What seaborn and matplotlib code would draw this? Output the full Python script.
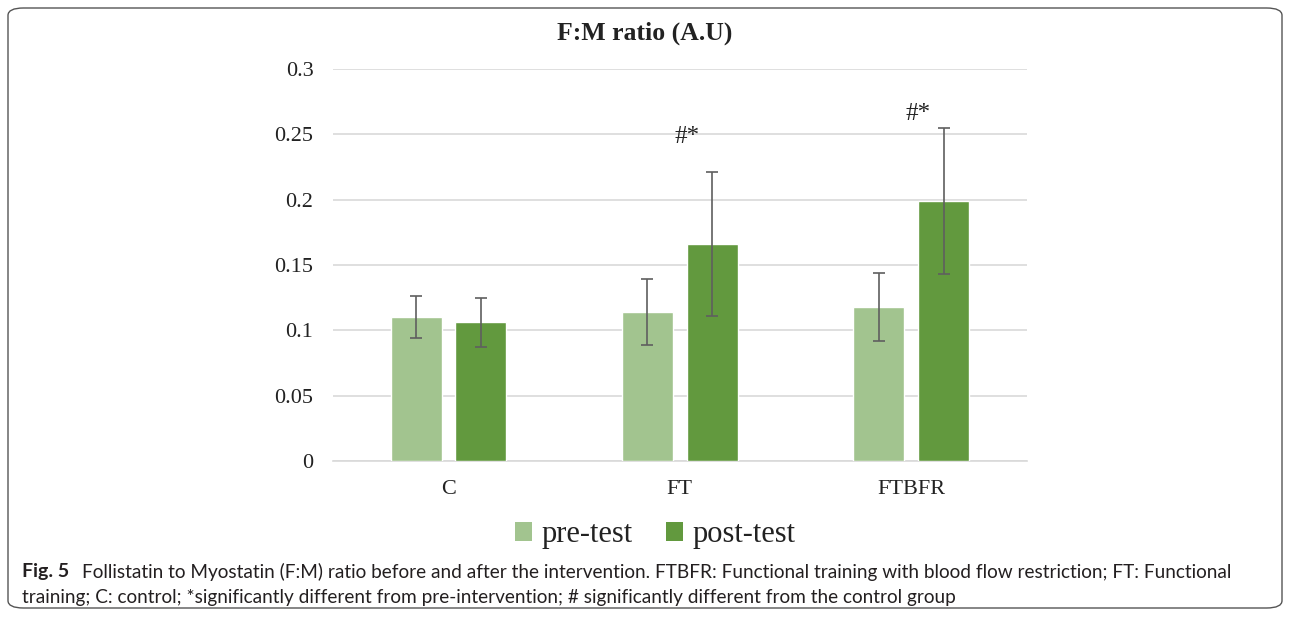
import numpy as np
import pandas as pd
import matplotlib
matplotlib.use("Agg")
import matplotlib.pyplot as plt
import seaborn as sns
from matplotlib.patches import FancyBboxPatch, Patch

# data
groups = ["C", "FT", "FTBFR"]
phases = ["pre-test", "post-test"]
pre_mean = [0.110, 0.114, 0.118]
post_mean = [0.106, 0.166, 0.199]
pre_err = [0.016, 0.025, 0.026]
post_err = [0.019, 0.055, 0.056]
sig_labels = ["", "#*", "#*"]
sig_y = [None, 0.248, 0.266]
yticks = [0, 0.05, 0.1, 0.15, 0.2, 0.25, 0.3]
ytick_labels = ["0", "0.05", "0.1", "0.15", "0.2", "0.25", "0.3"]

colors = {"pre-test": "#A2C48F", "post-test": "#62993E"}

df = pd.DataFrame({
    "group": groups * 2,
    "phase": ["pre-test"] * 3 + ["post-test"] * 3,
    "value": pre_mean + post_mean,
    "err": pre_err + post_err,
})

sns.set_style("white")
plt.rcParams["font.family"] = ["Liberation Serif", "DejaVu Serif"]

fig = plt.figure(figsize=(12.9, 6.17), dpi=100)
ax = fig.add_axes([0.258, 0.253, 0.538, 0.635])

sns.barplot(data=df, x="group", y="value", hue="phase", order=groups,
            hue_order=phases, palette=colors, saturation=1, width=0.56,
            gap=0.21, errorbar=None, legend=False, ax=ax, zorder=3)

# error bars at the bar centres
for container, phase in zip(ax.containers, phases):
    sub = df[df["phase"] == phase].set_index("group").loc[groups]
    xs = [b.get_x() + b.get_width() / 2 for b in container]
    ax.errorbar(xs, sub["value"], yerr=sub["err"], fmt="none",
                ecolor="#5f5f5f", elinewidth=1.2, capsize=4, capthick=1.2,
                zorder=4)

post_bars = ax.containers[1]
for i, lab in enumerate(sig_labels):
    if lab:
        b = post_bars[i]
        x = b.get_x() + b.get_width() / 2 - 0.11
        ax.text(x, sig_y[i], lab, ha="center", va="center", fontsize=18,
                color="#222222")

ax.set_xlim(-0.5, 2.5)
ax.set_ylim(0, 0.3)
ax.set_yticks(yticks)
ax.set_yticklabels(ytick_labels)
ax.grid(axis="y", color="#d9d9d9", linewidth=1.2, zorder=0)
ax.set_axisbelow(True)
for s in ["top", "right", "left"]:
    ax.spines[s].set_visible(False)
ax.spines["bottom"].set_color("#d9d9d9")
ax.spines["bottom"].set_linewidth(1.2)
ax.tick_params(axis="y", length=0, pad=14, labelsize=16, labelcolor="#222222")
ax.tick_params(axis="x", length=0, pad=14, labelsize=16, labelcolor="#222222")
ax.set_xlabel("")
ax.set_ylabel("")

fig.text(0.5, 0.946, "F:M ratio (A.U)", ha="center", va="center",
         fontsize=18.5, fontweight="bold", color="#222222")

handles = [Patch(facecolor=colors[p], edgecolor="none", label=p) for p in phases]
fig.legend(handles=handles, loc="center", bbox_to_anchor=(0.508, 0.133),
           ncol=2, frameon=False, fontsize=22, handlelength=0.55,
           handleheight=0.55, handletextpad=0.3, columnspacing=1.1,
           labelcolor="#222222")

# caption
cap_font = ["Lato", "DejaVu Sans"]
cap_color = "#231f20"
fig.text(22 / 1290, 1 - 572 / 617, "Fig. 5", ha="left", va="center",
         fontsize=14, fontweight="bold", family=cap_font, color=cap_color)
fig.text(82 / 1290, 1 - 572 / 617,
         "Follistatin to Myostatin (F:M) ratio before and after the intervention. "
         "FTBFR: Functional training with blood flow restriction; FT: Functional",
         ha="left", va="center", fontsize=13.7, family=cap_font, color=cap_color)
fig.text(22 / 1290, 1 - 598 / 617,
         "training; C: control; *significantly different from pre-intervention; "
         "# significantly different from the control group",
         ha="left", va="center", fontsize=13.7, family=cap_font, color=cap_color)

box = FancyBboxPatch((8 / 1290, 9 / 617), 1274 / 1290, 600 / 617,
                     boxstyle="round,pad=0,rounding_size=0.012",
                     transform=fig.transFigure, fill=False,
                     edgecolor="#555555", linewidth=1.0)
fig.patches.append(box)

fig.savefig("out.png", dpi=100)
